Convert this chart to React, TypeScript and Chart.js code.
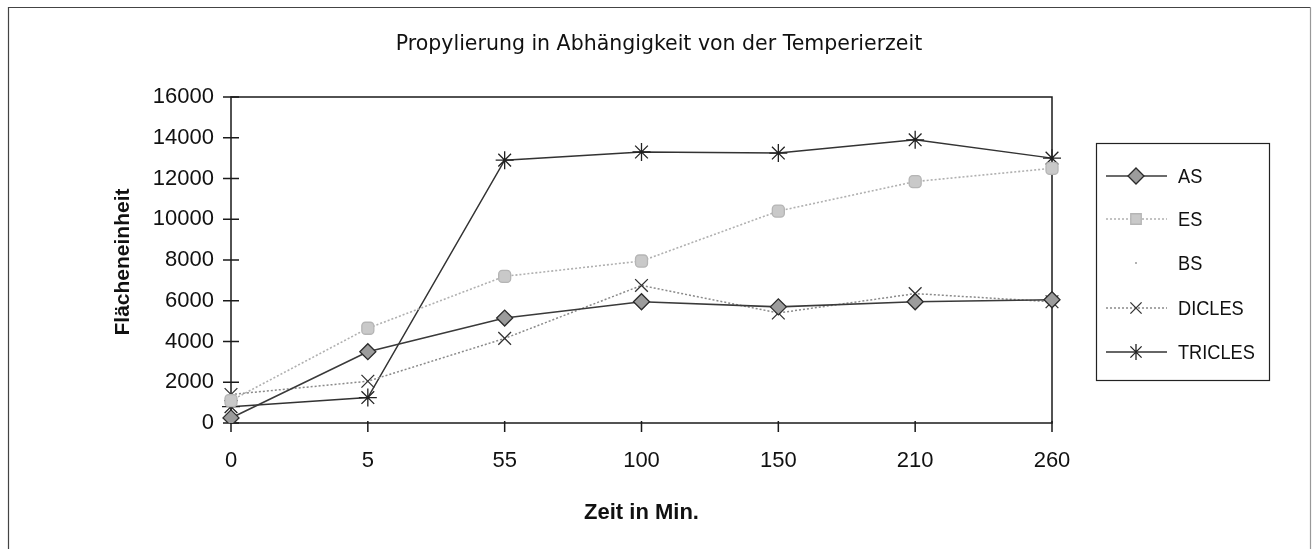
import React, { useEffect, useRef } from "react";
import { Chart, registerables } from "chart.js";

Chart.register(...registerables);

// ---- data ----
const categories = ["0", "5", "55", "100", "150", "210", "260"];
const seriesNames = ["AS", "ES", "BS", "DICLES", "TRICLES"];
const asValues = [250, 3500, 5150, 5950, 5700, 5950, 6050];
const esValues = [1100, 4650, 7200, 7950, 10400, 11850, 12500];
const bsValues: (number | null)[] = [null, null, null, null, null, null, null];
const diclesValues = [1400, 2050, 4150, 6750, 5400, 6350, 5950];
const triclesValues = [800, 1250, 12900, 13300, 13250, 13900, 13000];
const yMin = 0;
const yMax = 16000;
const yStep = 2000;
const chartTitle = "Propylierung in Abhängigkeit von der Temperierzeit";
const xTitle = "Zeit in Min.";
const yTitle = "Flächeneinheit";

const SANS = "'Liberation Sans', Arial, sans-serif";
const NARROW = "'Liberation Sans Narrow', 'Liberation Sans', Arial, sans-serif";
const TITLE_FONT = "'DejaVu Sans', sans-serif";

type Sty = {
  line: string;
  dash: number[];
  lw: number;
  shape: string;
  fill: string;
  stroke: string;
  r: number;
};
const styles: Sty[] = [
  { line: "#3a3a3a", dash: [], lw: 1.6, shape: "rectRot", fill: "#9c9c9c", stroke: "#2a2a2a", r: 8 },
  { line: "#b0b0b0", dash: [2, 2], lw: 1.6, shape: "rectRounded", fill: "#c9c9c9", stroke: "#b5b5b5", r: 7 },
  { line: "rgba(0,0,0,0)", dash: [], lw: 0, shape: "circle", fill: "#999", stroke: "#999", r: 1 },
  { line: "#8a8a8a", dash: [2, 2], lw: 1.5, shape: "crossRot", fill: "#333", stroke: "#333", r: 9 },
  { line: "#333333", dash: [], lw: 1.5, shape: "star", fill: "#222", stroke: "#222", r: 9 },
];

function drawMarker(ctx: CanvasRenderingContext2D, s: Sty, x: number, y: number) {
  ctx.save();
  ctx.setLineDash([]);
  ctx.fillStyle = s.fill;
  ctx.strokeStyle = s.stroke;
  ctx.lineWidth = 1.3;
  const r = s.r;
  ctx.beginPath();
  if (s.shape === "rectRot") {
    ctx.moveTo(x, y - r);
    ctx.lineTo(x + r, y);
    ctx.lineTo(x, y + r);
    ctx.lineTo(x - r, y);
    ctx.closePath();
    ctx.fill();
    ctx.stroke();
  } else if (s.shape === "rectRounded") {
    const h = r * 0.75;
    ctx.rect(x - h, y - h, 2 * h, 2 * h);
    ctx.fill();
    ctx.stroke();
  } else if (s.shape === "circle") {
    ctx.arc(x, y, r, 0, Math.PI * 2);
    ctx.fill();
  } else if (s.shape === "crossRot") {
    const d = r * 0.7;
    ctx.moveTo(x - d, y - d);
    ctx.lineTo(x + d, y + d);
    ctx.moveTo(x + d, y - d);
    ctx.lineTo(x - d, y + d);
    ctx.stroke();
  } else if (s.shape === "star") {
    const d = r * 0.7;
    ctx.moveTo(x - d, y - d);
    ctx.lineTo(x + d, y + d);
    ctx.moveTo(x + d, y - d);
    ctx.lineTo(x - d, y + d);
    ctx.moveTo(x, y - r);
    ctx.lineTo(x, y + r);
    ctx.stroke();
  }
  ctx.restore();
}

const decor = {
  id: "decor",
  beforeDraw(chart: any) {
    const ctx: CanvasRenderingContext2D = chart.ctx;
    ctx.save();
    ctx.fillStyle = "#fff";
    ctx.fillRect(0, 0, chart.width, chart.height);
    // outer frame (no bottom edge)
    ctx.strokeStyle = "#444";
    ctx.lineWidth = 1.2;
    ctx.beginPath();
    ctx.moveTo(8.5, 549);
    ctx.lineTo(8.5, 7.5);
    ctx.lineTo(1310.5, 7.5);
    ctx.stroke();
    ctx.strokeStyle = "#999";
    ctx.beginPath();
    ctx.moveTo(1310.5, 7.5);
    ctx.lineTo(1310.5, 549);
    ctx.stroke();
    ctx.restore();
  },
  beforeDatasetsDraw(chart: any) {
    const ctx: CanvasRenderingContext2D = chart.ctx;
    const a = chart.chartArea;
    const xs = chart.scales.x;
    const ys = chart.scales.y;
    ctx.save();
    ctx.strokeStyle = "#1a1a1a";
    ctx.lineWidth = 1.5;
    ctx.strokeRect(a.left, a.top, a.right - a.left, a.bottom - a.top);
    ctx.lineWidth = 1.5;
    ctx.beginPath();
    ys.ticks.forEach((t: any) => {
      const y = ys.getPixelForValue(t.value);
      ctx.moveTo(a.left - 8, y);
      ctx.lineTo(a.left + 8, y);
    });
    categories.forEach((_, i) => {
      const x = xs.getPixelForValue(i);
      ctx.moveTo(x, a.bottom - 2);
      ctx.lineTo(x, a.bottom + 9);
    });
    ctx.stroke();
    ctx.restore();
  },
  afterDraw(chart: any) {
    const ctx: CanvasRenderingContext2D = chart.ctx;
    const a = chart.chartArea;
    const cx = (a.left + a.right) / 2;
    ctx.save();
    ctx.fillStyle = "#111";
    ctx.textAlign = "center";
    ctx.textBaseline = "middle";
    ctx.font = `20.5px ${TITLE_FONT}`;
    ctx.fillText(chartTitle, 659, 45);
    ctx.font = `bold 22px ${SANS}`;
    ctx.fillText(xTitle, cx, 513);
    ctx.font = `bold 21px ${SANS}`;
    ctx.save();
    ctx.translate(123, (a.top + a.bottom) / 2 + 2);
    ctx.rotate(-Math.PI / 2);
    ctx.fillText(yTitle, 0, 0);
    ctx.restore();

    // legend
    const bx = 1096, by = 143, bw = 173, bh = 237;
    ctx.strokeStyle = "#222";
    ctx.lineWidth = 1.2;
    ctx.strokeRect(bx + 0.5, by + 0.5, bw, bh);
    const rows = [176, 219, 263, 308, 352];
    ctx.textAlign = "left";
    ctx.font = `20px ${NARROW}`;
    seriesNames.forEach((name, i) => {
      const s = styles[i];
      const y = rows[i];
      if (s.lw > 0) {
        ctx.save();
        ctx.strokeStyle = s.line;
        ctx.lineWidth = s.lw;
        ctx.setLineDash(s.dash);
        ctx.beginPath();
        ctx.moveTo(1106, y);
        ctx.lineTo(1167, y);
        ctx.stroke();
        ctx.restore();
      }
      drawMarker(ctx, { ...s, r: Math.min(s.r, 8) }, 1136, y);
      ctx.save();
      ctx.fillStyle = "#111";
      ctx.translate(1178, y + 1);
      ctx.scale(0.91, 1);
      ctx.fillText(name, 0, 0);
      ctx.restore();
    });
    ctx.restore();
  },
};

const seriesValues = [asValues, esValues, bsValues, diclesValues, triclesValues];

export default function App() {
  const ref = useRef<HTMLCanvasElement>(null);
  useEffect(() => {
    const datasets = seriesNames.map((name, i) => {
      const s = styles[i];
      return {
        label: name,
        data: seriesValues[i],
        borderColor: s.line,
        borderWidth: s.lw,
        borderDash: s.dash,
        backgroundColor: s.fill,
        pointStyle: s.shape as any,
        pointRadius: s.r,
        pointBackgroundColor: s.fill,
        pointBorderColor: s.stroke,
        pointBorderWidth: 1.3,
        fill: false,
        tension: 0,
        spanGaps: false,
      };
    });
    const chart = new Chart(ref.current!, {
      type: "line",
      data: { labels: categories, datasets },
      options: {
        responsive: false,
        animation: false,
        devicePixelRatio: 1,
        layout: { padding: { left: 0, top: 97, right: 262, bottom: 0 } },
        plugins: {
          legend: { display: false },
          title: { display: false },
          tooltip: { enabled: false },
        },
        scales: {
          x: {
            type: "category",
            offset: false,
            grid: { display: false, drawTicks: false },
            border: { display: false },
            ticks: { font: { family: SANS, size: 22 }, color: "#111", padding: 25, maxRotation: 0, autoSkip: false },
            afterFit: (s: any) => {
              s.height = 126;
            },
          },
          y: {
            min: yMin,
            max: yMax,
            grid: { display: false, drawTicks: false },
            border: { display: false },
            ticks: {
              stepSize: yStep,
              font: { family: SANS, size: 22 },
              color: "#111",
              padding: 17,
              callback: (v: any) => String(v),
            },
            afterFit: (s: any) => {
              s.width = 231;
            },
          },
        },
      },
      plugins: [decor],
    });
    return () => chart.destroy();
  }, []);
  return (
    <div style={{ position: "absolute", left: 0, top: 0, width: 1314, height: 549 }}>
      <canvas ref={ref} width={1314} height={549} style={{ display: "block" }} />
    </div>
  );
}
